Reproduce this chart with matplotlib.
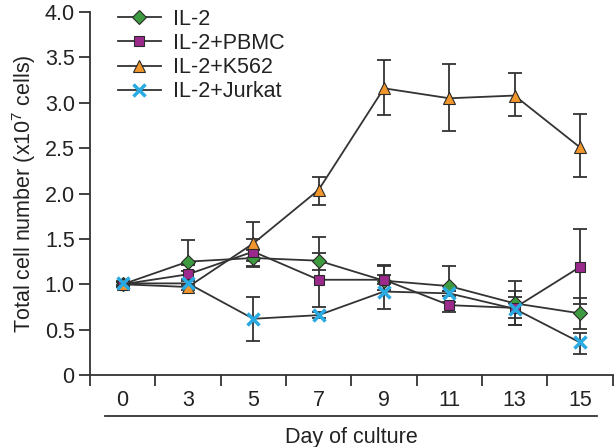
import matplotlib
matplotlib.use("Agg")
import matplotlib.pyplot as plt
import numpy as np

plt.rcParams['font.family'] = ['Liberation Sans', 'DejaVu Sans']
plt.rcParams['mathtext.default'] = 'regular'

days = ["0", "3", "5", "7", "9", "11", "13", "15"]

il2 = [1.00, 1.25, 1.29, 1.26, 1.04, 0.98, 0.79, 0.68]
il2_up = [0.03, 0.24, 0.09, 0.26, 0.17, 0.22, 0.25, 0.17]
il2_lo = [0.03, 0.10, 0.10, 0.10, 0.10, 0.05, 0.24, 0.17]

pbmc = [1.00, 1.11, 1.36, 1.05, 1.05, 0.77, 0.74, 1.19]
pbmc_up = [0.02, 0.10, 0.14, 0.30, 0.05, 0.03, 0.12, 0.42]
pbmc_lo = [0.02, 0.05, 0.10, 0.30, 0.05, 0.08, 0.11, 0.41]

k562 = [1.00, 0.97, 1.45, 2.04, 3.16, 3.05, 3.08, 2.51]
k562_up = [0.03, 0.03, 0.24, 0.14, 0.31, 0.38, 0.25, 0.37]
k562_lo = [0.03, 0.03, 0.25, 0.17, 0.29, 0.36, 0.23, 0.33]

jurkat = [1.01, 1.01, 0.62, 0.66, 0.92, 0.90, 0.73, 0.36]
jurkat_up = [0.03, 0.03, 0.24, 0.03, 0.28, 0.03, 0.20, 0.10]
jurkat_lo = [0.03, 0.03, 0.25, 0.03, 0.19, 0.03, 0.18, 0.13]

labels = ["IL-2", "IL-2+PBMC", "IL-2+K562", "IL-2+Jurkat"]

FS = 15.5
fig = plt.figure(figsize=(6.14, 4.47), dpi=100)
ax = fig.add_axes([0.1466, 0.161, 0.851, 0.812])

x = np.arange(len(days))
line_c = '#333333'
txt_c = '#222222'

specs = [
    (il2, il2_up, il2_lo, dict(marker='D', markersize=7.5, markerfacecolor='#3d9a3f', markeredgecolor='#2a2a2a', markeredgewidth=0.8)),
    (pbmc, pbmc_up, pbmc_lo, dict(marker='s', markersize=6.5, markerfacecolor='#9c2a8c', markeredgecolor='#2a2a2a', markeredgewidth=0.8)),
    (k562, k562_up, k562_lo, dict(marker='^', markersize=8.5, markerfacecolor='#f0962c', markeredgecolor='#2a2a2a', markeredgewidth=0.8)),
    (jurkat, jurkat_up, jurkat_lo, dict(marker='x', markersize=8, markeredgecolor='#2aaae2', markeredgewidth=2.5)),
]

handles = []
for (vals, up, lo, mk), lab in zip(specs, labels):
    ax.errorbar(x, vals, yerr=[lo, up], fmt='none', ecolor=line_c, elinewidth=1.3,
                capsize=5, capthick=1.3, zorder=2)
for (vals, up, lo, mk), lab in zip(specs, labels):
    h, = ax.plot(x, vals, color=line_c, linewidth=1.3, label=lab, zorder=3, **mk)
    handles.append(h)

ax.set_xlim(-0.5, 7.5)
ax.set_ylim(0, 4.0)
ax.set_yticks(np.arange(0, 4.01, 0.5))
ax.set_yticklabels(["0", "0.5", "1.0", "1.5", "2.0", "2.5", "3.0", "3.5", "4.0"])
ax.set_xticks(x)
ax.set_xticklabels(days)
ax.set_xticks(np.arange(-0.5, 7.6, 1.0), minor=True)
ax.tick_params(axis='x', which='major', length=0, pad=11, labelsize=FS, colors=txt_c)
ax.tick_params(axis='x', which='minor', length=8, width=1.3, color=line_c, direction='out')
ax.tick_params(axis='y', length=8, width=1.3, color=line_c, direction='out', labelsize=FS,
               labelcolor=txt_c, pad=3)

for s in ['top', 'right']:
    ax.spines[s].set_visible(False)
for s in ['left', 'bottom']:
    ax.spines[s].set_linewidth(1.3)
    ax.spines[s].set_color(line_c)

ax.set_ylabel("Total cell number (x10$^7$ cells)", fontsize=FS, color=txt_c, labelpad=5)
ax.set_xlabel("Day of culture", fontsize=FS, color=txt_c, labelpad=11)

ax.plot([0.029, 0.971], [-0.113, -0.113], transform=ax.transAxes, color=line_c,
        linewidth=1.3, clip_on=False)

leg = ax.legend(handles=handles, loc='upper left', bbox_to_anchor=(0.037, 1.033), frameon=False,
                fontsize=FS, handlelength=2.0, handletextpad=0.55, labelspacing=0.15,
                borderaxespad=0.0)
for t in leg.get_texts():
    t.set_color(txt_c)

fig.savefig("out.png", dpi=100)
